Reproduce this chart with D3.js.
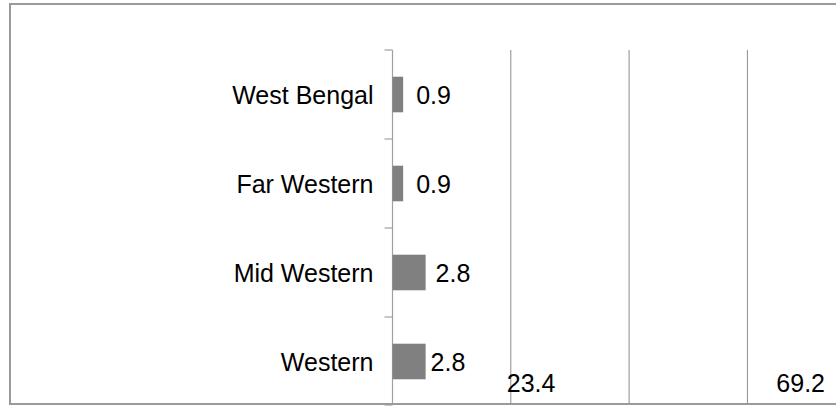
<!DOCTYPE html>
<html>
<head>
<meta charset="utf-8">
<script src="https://cdn.jsdelivr.net/npm/d3@7"></script>
<style>
  html, body { margin: 0; padding: 0; background: #fff; }
  svg { display: block; }
  text { font-family: "Liberation Sans", Arial, sans-serif; fill: #000; }
</style>
</head>
<body>
<svg id="chart" width="836" height="406"></svg>
<script>
// Regions, top to bottom, with their shares
const categories = ["West Bengal", "Far Western", "Mid Western", "Western"];
const values = [0.9, 0.9, 2.8, 2.8];
// Labels of the two larger bars that run past the bottom of the plot
const overflowValues = [23.4, 69.2];
const gridTicks = [10, 20, 30];

const W = 836, H = 406;
const plot = { left: 392.5, top: 50, bottom: 406 };
const fontSize = 25;

const svg = d3.select("#chart");

// Chart frame (its right edge lies past the window)
svg.append("rect")
  .attr("x", 10).attr("y", 4)
  .attr("width", W + 20).attr("height", 400)
  .attr("fill", "#fff")
  .attr("stroke", "#9a9a9a")
  .attr("stroke-width", 2);

const x = d3.scaleLinear().domain([0, 10]).range([plot.left, plot.left + 118.3]);
const y = d3.scaleBand()
  .domain(categories)
  .range([plot.top, plot.bottom])
  .paddingInner(0.6)
  .paddingOuter(0.3);

// Vertical gridlines
svg.append("g")
  .selectAll("line")
  .data(gridTicks)
  .join("line")
  .attr("x1", d => x(d)).attr("x2", d => x(d))
  .attr("y1", plot.top).attr("y2", 404)
  .attr("stroke", "#8c8c8c")
  .attr("stroke-width", 1);

// Category axis with ticks on band boundaries
const step = y.step();
const boundaries = d3.range(categories.length + 1).map(i => plot.top + i * step);
const axisG = svg.append("g");
axisG.append("line")
  .attr("x1", plot.left).attr("x2", plot.left)
  .attr("y1", plot.top).attr("y2", 404)
  .attr("stroke", "#a0a0a0").attr("stroke-width", 1.2);
axisG.selectAll("line.tick")
  .data(boundaries)
  .join("line")
  .attr("class", "tick")
  .attr("x1", plot.left - 8).attr("x2", plot.left)
  .attr("y1", d => d).attr("y2", d => d)
  .attr("stroke", "#a0a0a0").attr("stroke-width", 1.2);

axisG.selectAll("text")
  .data(categories)
  .join("text")
  .attr("x", plot.left - 19)
  .attr("y", d => y(d) + y.bandwidth() / 2)
  .attr("dy", "0.36em")
  .attr("text-anchor", "end")
  .attr("font-size", fontSize)
  .text(d => d);

// Bars
const rows = categories.map((c, i) => ({ c, v: values[i] }));
svg.append("g")
  .selectAll("rect")
  .data(rows)
  .join("rect")
  .attr("x", x(0))
  .attr("y", d => y(d.c))
  .attr("width", d => x(d.v) - x(0))
  .attr("height", y.bandwidth())
  .attr("fill", "#808080");

// Value labels
const labelGap = [13, 13, 10, 5];
svg.append("g")
  .selectAll("text")
  .data(rows)
  .join("text")
  .attr("x", (d, i) => x(d.v) + labelGap[i])
  .attr("y", d => y(d.c) + y.bandwidth() / 2)
  .attr("dy", "0.36em")
  .attr("font-size", fontSize)
  .text(d => d3.format(".1f")(d.v));

// Overflow labels along the bottom of the plot
const ovG = svg.append("g").attr("font-size", fontSize);
ovG.append("text")
  .attr("x", x(10) - 4)
  .attr("y", 391.7)
  .attr("text-anchor", "start")
  .text(d3.format(".1f")(overflowValues[0]));
ovG.append("text")
  .attr("x", W - 11)
  .attr("y", 391.7)
  .attr("text-anchor", "end")
  .text(d3.format(".1f")(overflowValues[1]));
</script>
</body>
</html>
